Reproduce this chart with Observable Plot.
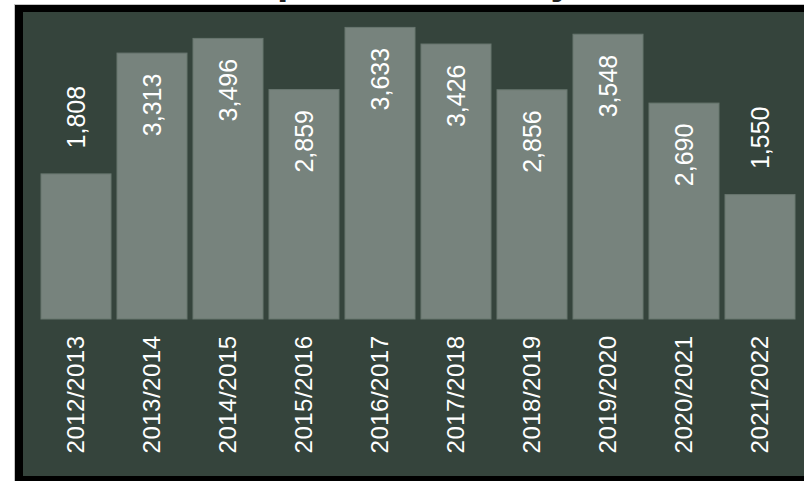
<!DOCTYPE html>
<html>
<head>
<meta charset="utf-8">
<script src="https://cdn.jsdelivr.net/npm/d3@7"></script>
<script src="https://cdn.jsdelivr.net/npm/@observablehq/plot@0.6"></script>
<style>
  html, body { margin: 0; padding: 0; background: #fff; }
  body { width: 804px; height: 481px; position: relative; overflow: hidden; font-family: "Liberation Sans", Arial, sans-serif; }
  #title { position: absolute; left: 40px; top: -40px; font-size: 41px; line-height: 41px; font-weight: bold; color: #222; white-space: nowrap; }
  #edge { position: absolute; left: 14px; top: 4px; width: 820px; height: 500px; background: #c4c4c4; }
  #black { position: absolute; left: 15px; top: 5px; width: 820px; height: 500px; background: #000; }
  #panel { position: absolute; left: 23px; top: 12px; width: 800px; height: 464px; background: #35443c; overflow: hidden; }
  #panel svg { display: block; background: transparent; }
  #panel svg text.tick { letter-spacing: 0.5px; }
</style>
</head>
<body>
<div id="title">Enrolments per academic year</div>
<div id="edge"></div>
<div id="black"></div>
<div id="panel"></div>
<script>
const years = ["2012/2013","2013/2014","2014/2015","2015/2016","2016/2017","2017/2018","2018/2019","2019/2020","2020/2021","2021/2022"];
const values = [1808, 3313, 3496, 2859, 3633, 3426, 2856, 3548, 2690, 1550];

const data = years.map((year, i) => ({year, value: values[i]}));
const fmt = d3.format(",");
const inside = data.filter(d => d.value >= 2000);
const outside = data.filter(d => d.value < 2000);

const chart = Plot.plot({
  width: 790,
  height: 464,
  marginLeft: 12,
  marginRight: 11,
  marginTop: 2,
  marginBottom: 157,
  style: { background: "transparent", fontFamily: "'Liberation Sans', Arial, sans-serif" },
  x: { domain: years, padding: 0.075, axis: null },
  y: { domain: [0, 3800], axis: null },
  marks: [
    Plot.barY(data, { x: "year", y: "value", fill: "#77837d", stroke: "#68766f", strokeWidth: 1 }),
    Plot.text(inside, { x: "year", y: "value", text: d => fmt(d.value), rotate: -90, textAnchor: "end", lineAnchor: "middle", dy: 20, fill: "#ffffff", fontSize: 25 }),
    Plot.text(outside, { x: "year", y: "value", text: d => fmt(d.value), rotate: -90, textAnchor: "start", lineAnchor: "middle", dy: -26, fill: "#ffffff", fontSize: 25 }),
    Plot.text(data, { x: "year", text: "year", frameAnchor: "bottom", rotate: -90, textAnchor: "end", lineAnchor: "middle", dy: 16, fill: "#ffffff", fontSize: 24, className: "tick" })
  ]
});
document.getElementById("panel").appendChild(chart);
// letter spacing for tick labels
chart.querySelectorAll("g.tick text, .tick text").forEach(t => t.setAttribute("letter-spacing", "0.5"));
</script>
</body>
</html>
